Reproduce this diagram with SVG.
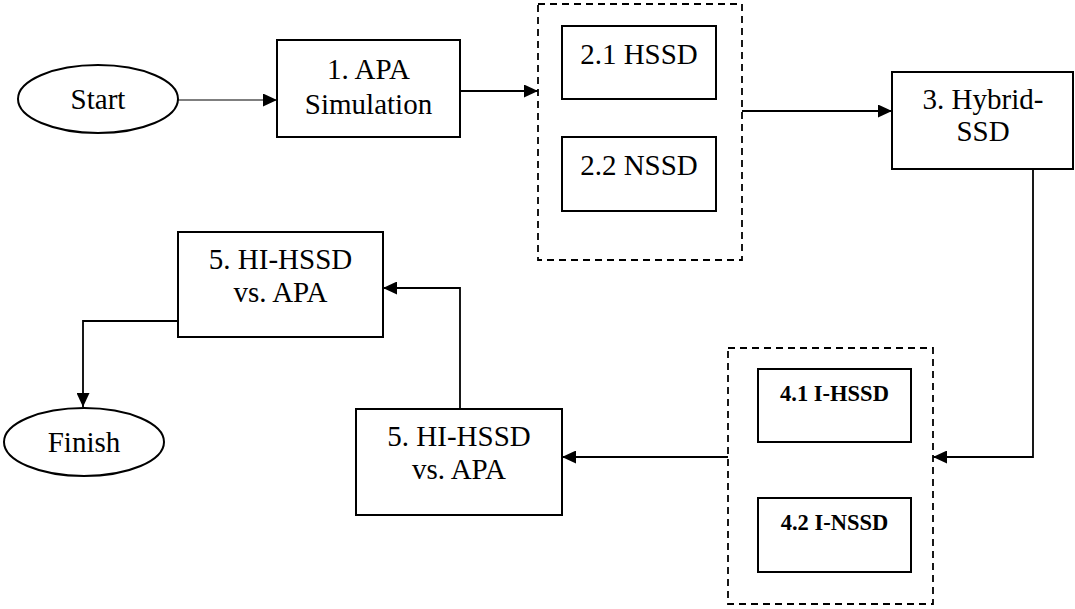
<svg xmlns="http://www.w3.org/2000/svg" width="1075" height="609" viewBox="0 0 1075 609">
<style>
.box{fill:#fff;stroke:#000;stroke-width:2}
.grp{fill:none;stroke:#000;stroke-width:1.8;stroke-dasharray:7 5}
.t{font-family:"Times New Roman","Liberation Serif","DejaVu Serif",serif;font-size:29px;fill:#000;text-anchor:middle}
.b{font-family:"Times New Roman","Liberation Serif","DejaVu Serif",serif;font-size:22.5px;font-weight:bold;fill:#000;text-anchor:middle}
.c{fill:none;stroke:#000;stroke-width:1.8}
</style>
<defs>
<marker id="ah" viewBox="0 0 14 13" refX="14" refY="6.5" markerWidth="14" markerHeight="13" markerUnits="userSpaceOnUse" orient="auto">
<path d="M0,0 L14,6.5 L0,13 Z" fill="#000"/>
</marker>
</defs>
<rect width="1075" height="609" fill="#fff"/>
<g id="connectors">
<path class="c" d="M178,100 H277" style="stroke-width:1.1" marker-end="url(#ah)"/>
<path class="c" d="M460,91 H538" marker-end="url(#ah)"/>
<path class="c" d="M742,111 H892" marker-end="url(#ah)"/>
<path class="c" d="M1033,169 V457 H933" marker-end="url(#ah)"/>
<path class="c" d="M728,457 H562" marker-end="url(#ah)"/>
<path class="c" d="M460,409 V288 H383" marker-end="url(#ah)"/>
<path class="c" d="M178,321 H83 V407" marker-end="url(#ah)"/>
</g>
<g id="start">
<ellipse cx="98" cy="99" rx="80" ry="34" class="box"/>
<text x="98" y="109" class="t">Start</text>
</g>
<g id="apa-simulation">
<rect x="277" y="40" width="183" height="97" class="box"/>
<text x="368.5" y="79" class="t">1. APA</text>
<text x="368.5" y="114" class="t">Simulation</text>
</g>
<g id="group2">
<rect x="538" y="4" width="204" height="256" class="grp"/>
</g>
<g id="hssd">
<rect x="562" y="26" width="154" height="73" class="box"/>
<text x="639" y="64" class="t">2.1 HSSD</text>
</g>
<g id="nssd">
<rect x="562" y="137" width="154" height="74" class="box"/>
<text x="639" y="175" class="t">2.2 NSSD</text>
</g>
<g id="hybrid-ssd">
<rect x="892" y="72" width="181" height="97" class="box"/>
<text x="983" y="109" class="t">3. Hybrid-</text>
<text x="983" y="141" class="t">SSD</text>
</g>
<g id="group4">
<rect x="728" y="348" width="205" height="256" class="grp"/>
</g>
<g id="i-hssd">
<rect x="758" y="369" width="153" height="73" class="box"/>
<text x="834.5" y="401" class="b">4.1 I-HSSD</text>
</g>
<g id="i-nssd">
<rect x="758" y="498" width="153" height="74" class="box"/>
<text x="834.5" y="530" class="b">4.2 I-NSSD</text>
</g>
<g id="hi-hssd-b">
<rect x="356" y="409" width="206" height="106" class="box"/>
<text x="459" y="446" class="t">5. HI-HSSD</text>
<text x="459" y="479" class="t">vs. APA</text>
</g>
<g id="hi-hssd-a">
<rect x="178" y="232" width="205" height="105" class="box"/>
<text x="280.5" y="269" class="t">5. HI-HSSD</text>
<text x="280.5" y="302" class="t">vs. APA</text>
</g>
<g id="finish">
<ellipse cx="84" cy="442" rx="80" ry="34" class="box"/>
<text x="84" y="452" class="t">Finish</text>
</g>
</svg>
